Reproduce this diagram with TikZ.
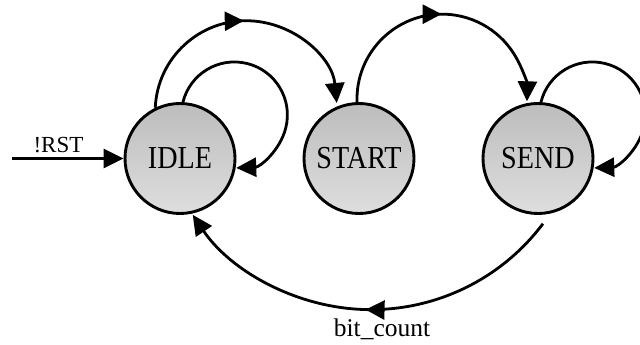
\documentclass[tikz,border=0pt]{standalone}
\usepackage{fontspec}
\setmainfont{Liberation Serif}
\newfontfamily\statefont{Liberation Serif}[FakeStretch=0.88]
\usetikzlibrary{arrows.meta,decorations.markings}

\tikzset{
  fsmstate/.style={circle, draw=black, line width=2.9pt, minimum size=110pt,
    inner sep=0pt, top color=black!26, bottom color=black!13,
    font=\statefont\fontsize{32}{36}\selectfont},
  tip/.style={-{Triangle[length=20pt,width=19pt]}},
  wire/.style={line width=2.8pt, tip},
  midtip/.style={postaction={decorate}, decoration={markings,
    mark=at position 0.5 with {\arrow{Triangle[length=19pt,width=19pt]}}}},
  lbl/.style={font=\fontsize{#1}{#1}\selectfont, inner sep=0pt}
}

\begin{document}
\begin{tikzpicture}[x=1pt, y=1pt]
  \useasboundingbox (0,0) rectangle (640,345);

  % states
  \node[fsmstate] (IDLE)  at (180,186.5) {IDLE};
  \node[fsmstate] (START) at (359,186.5) {START};
  \node[fsmstate] (SEND)  at (538,186.5) {SEND};

  % reset entry
  \coordinate (rst) at (12,186.5);
  \draw[wire] (rst) -- (IDLE.west);
  \node[lbl=23, anchor=base] (rstlbl) at (58.5,192) {!RST};

  % IDLE holds
  \draw[wire] (IDLE.87) arc[start angle=166, end angle=-88, radius=53];

  % IDLE -> START
  \draw[wire, midtip] (IDLE.116) arc[start angle=177.5, end angle=5.5, radius=91];

  % START -> SEND
  \draw[wire, midtip] (START.92) arc[start angle=182, end angle=-1.5, radius=85];

  % SEND holds
  \draw[wire] (SEND.87) arc[start angle=166, end angle=-88, radius=53];

  % SEND -> IDLE when the bit count is reached
  \draw[wire, midtip] (SEND.-85) ++(0,-9) arc[start angle=-36.9, end angle=-146, radius=215];
  \node[lbl=25.5, anchor=base] (cntlbl) at (382,8) {bit\_count};
\end{tikzpicture}
\end{document}
